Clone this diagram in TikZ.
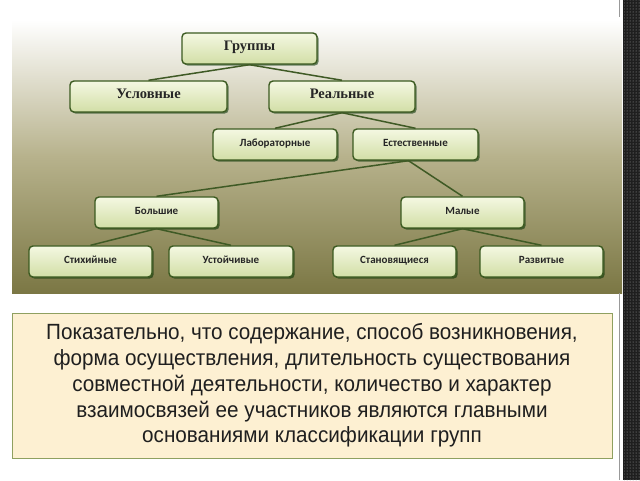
\documentclass[tikz,border=0pt]{standalone}
\usepackage{fontspec}
\setmainfont{Liberation Serif}
\newfontfamily\boxsans{Carlito}
\newfontfamily\narrowfont[FakeStretch=0.94]{Liberation Sans}
\usetikzlibrary{shadows,patterns}
\definecolor{boxline}{HTML}{3B5A20}
\definecolor{boxtop}{HTML}{F4F8E2}
\definecolor{boxbot}{HTML}{D2DEA6}
\definecolor{linkcol}{HTML}{3F5A25}
\definecolor{bgbot}{HTML}{7B7744}
\definecolor{bgmid}{HTML}{B7B28C}
\definecolor{notefill}{HTML}{FDF0D2}
\definecolor{noteline}{HTML}{8FA060}
\tikzset{
  gbox/.style={draw=boxline, line width=1.4pt, rounded corners=4pt,
    top color=boxtop, bottom color=boxbot, minimum height=31pt,
    inner sep=0pt, text=black!85, text height=0.68em, text depth=0.26em,
    drop shadow={shadow xshift=1.6pt, shadow yshift=-1.6pt, fill=black!70!green!60!black, opacity=0.55}},
  topbox/.style={gbox, font=\bfseries\fontsize{14.5}{16}\selectfont},
  lowbox/.style={gbox, font=\boxsans\bfseries\fontsize{11}{13}\selectfont},
  link/.style={draw=linkcol, line width=1.5pt}
}
\begin{document}
\begin{tikzpicture}[x=1pt,y=1pt]
\useasboundingbox (0,0) rectangle (640,480);
\fill[white] (0,0) rectangle (640,480);
% background panel
\shade[top color=white, bottom color=bgbot, middle color=bgmid] (12,187) rectangle (622,460);
% right strip
\fill[black!88] (623,0) rectangle (640,480);
\fill[pattern=dots, pattern color=gray!70] (624,0) rectangle (640,480);
\draw[gray!80, line width=0.8pt] (619,463) -- (619,480);
\draw[gray!80, line width=0.8pt] (619,0) -- (619,187);
% nodes
\node[topbox, minimum width=135pt] (grp) at (249.5,431.5) {Группы};
\node[topbox, minimum width=157pt] (usl) at (148.5,383.5) {Условные};
\node[topbox, minimum width=146pt] (real) at (342,383.5) {Реальные};
\node[lowbox, minimum width=124pt] (lab) at (275,335.5) {Лабораторные};
\node[lowbox, minimum width=125pt] (est) at (415.5,335.5) {Естественные};
\node[lowbox, minimum width=123pt] (big) at (156.5,267.5) {Большие};
\node[lowbox, minimum width=123pt] (small) at (462.5,267.5) {Малые};
\node[lowbox, minimum width=123pt] (stix) at (90.5,218.5) {Стихийные};
\node[lowbox, minimum width=124pt] (ust) at (231,218.5) {Устойчивые};
\node[lowbox, minimum width=123pt] (stan) at (394.5,218.5) {Становящиеся};
\node[lowbox, minimum width=123pt] (razv) at (541.5,218.5) {Развитые};
% links
\draw[link] (grp.south) -- (usl.north);
\draw[link] (grp.south) -- (real.north);
\draw[link] (real.south) -- (lab.north);
\draw[link] (real.south) -- (est.north);
\draw[link] ([xshift=-7pt]est.south) -- (big.north);
\draw[link] ([xshift=-7pt]est.south) -- (small.north);
\draw[link] (big.south) -- (stix.north);
\draw[link] (big.south) -- (ust.north);
\draw[link] (small.south) -- (stan.north);
\draw[link] (small.south) -- (razv.north);
% note
\node[draw=noteline, line width=0.8pt, fill=notefill, minimum width=600pt, minimum height=145pt,
  inner sep=0pt] (note) at (312,94.5) {};
\node[align=center, text=black!88, font=\narrowfont\fontsize{22}{25.8}\selectfont] (notetext) at (note.center)
 {Показательно, что содержание, способ возникновения,\\
  форма осуществления, длительность существования\\
  совместной деятельности, количество и характер\\
  взаимосвязей ее участников являются главными\\
  основаниями классификации групп};
\end{tikzpicture}
\end{document}
